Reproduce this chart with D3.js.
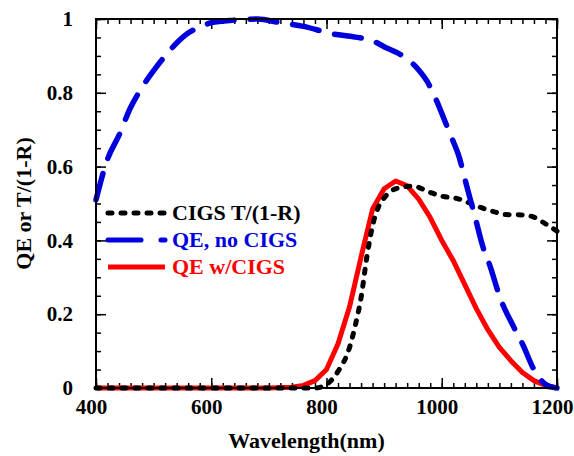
<!DOCTYPE html>
<html>
<head>
  <meta charset="utf-8">
  <script src="https://d3js.org/d3.v7.min.js"></script>
  <style>
    body { margin: 0; background: #fff; }
    text { font-family: "Liberation Serif", "Times New Roman", serif; font-weight: bold; }
  </style>
</head>
<body>
  <div id="chart"></div>

  <script>
    // wavelength (nm) and values
    var blueWl  = [400, 420, 440, 460, 480, 500, 520, 540, 560, 580, 600, 640, 680, 720, 760, 810, 850, 880, 900, 930, 960, 975, 990, 1005, 1020, 1030, 1040, 1060, 1070, 1085, 1100, 1125, 1140, 1160, 1180, 1200];
    var blueQE  = [0.51, 0.62, 0.685, 0.76, 0.815, 0.86, 0.90, 0.935, 0.962, 0.978, 0.99, 0.997, 1.0, 0.99, 0.98, 0.96, 0.951, 0.941, 0.925, 0.902, 0.862, 0.83, 0.782, 0.725, 0.668, 0.627, 0.567, 0.45, 0.39, 0.325, 0.25, 0.165, 0.12, 0.05, 0.01, 0.0];

    var redWl   = [400, 700, 740, 760, 780, 800, 820, 840, 860, 880, 900, 920, 940, 960, 980, 1000, 1020, 1040, 1060, 1080, 1100, 1120, 1140, 1160, 1180, 1200];
    var redQE   = [0, 0, 0.002, 0.007, 0.02, 0.05, 0.12, 0.22, 0.355, 0.485, 0.54, 0.561, 0.548, 0.512, 0.462, 0.40, 0.345, 0.28, 0.215, 0.158, 0.11, 0.074, 0.042, 0.02, 0.007, 0];

    var blackWl = [400, 780, 800, 820, 840, 850, 860, 870, 880, 890, 900, 920, 950, 980, 1000, 1030, 1050, 1070, 1090, 1110, 1140, 1160, 1180, 1200];
    var blackT  = [0, 0, 0.01, 0.045, 0.11, 0.17, 0.245, 0.355, 0.44, 0.49, 0.515, 0.54, 0.547, 0.53, 0.52, 0.512, 0.50, 0.488, 0.478, 0.47, 0.469, 0.463, 0.445, 0.425];

    var xTicks = [400, 600, 800, 1000, 1200];
    var yTicks = [0, 0.2, 0.4, 0.6, 0.8, 1];
    var legendNames = ["CIGS T/(1-R)", "QE, no CIGS", "QE w/CIGS"];

    var margin = {top: 19, right: 17, bottom: 68, left: 96};
    var width = 574 - margin.left - margin.right;
    var height = 456 - margin.top - margin.bottom;

    var x = d3.scaleLinear().domain([400, 1200]).range([0, width]);
    var y = d3.scaleLinear().domain([0, 1]).range([height, 0]);

    var svg = d3.select("#chart")
      .append("svg")
      .attr("width", 574)
      .attr("height", 456)
      .append("g")
      .attr("transform", "translate(" + margin.left + "," + margin.top + ")");

    function zip(a, b) {
      return a.map(function(v, i) { return [v, b[i]]; });
    }

    var minorX = d3.range(400, 1201, 20);
    var minorY = d3.range(0, 1.001, 0.05);

    // minor ticks on all four sides
    svg.append("g").attr("transform", "translate(0," + height + ")")
      .call(d3.axisBottom(x).tickValues(minorX).tickSize(-5).tickFormat(""));
    svg.append("g")
      .call(d3.axisTop(x).tickValues(minorX).tickSize(-5).tickFormat(""));
    svg.append("g")
      .call(d3.axisLeft(y).tickValues(minorY).tickSize(-5).tickFormat(""));
    svg.append("g").attr("transform", "translate(" + width + ",0)")
      .call(d3.axisRight(y).tickValues(minorY).tickSize(-5).tickFormat(""));

    // major ticks
    svg.append("g").attr("class", "xaxis").attr("transform", "translate(0," + height + ")")
      .call(d3.axisBottom(x).tickValues(xTicks).tickSizeInner(-10).tickSizeOuter(0).tickPadding(11).tickFormat(d3.format("d")));
    svg.append("g")
      .call(d3.axisTop(x).tickValues(xTicks).tickSize(-10).tickFormat(""));
    svg.append("g").attr("class", "yaxis")
      .call(d3.axisLeft(y).tickValues(yTicks).tickSizeInner(-10).tickSizeOuter(0).tickPadding(23).tickFormat(function(d) { return d3.format("")(+d.toFixed(1)); }));
    svg.append("g").attr("transform", "translate(" + width + ",0)")
      .call(d3.axisRight(y).tickValues(yTicks).tickSize(-10).tickFormat(""));

    svg.selectAll(".domain").remove();
    svg.selectAll(".tick line").attr("stroke", "#000").attr("stroke-width", 1.5);
    svg.selectAll(".xaxis text, .yaxis text")
      .attr("fill", "#000")
      .style("font-size", "21px")
      .style("font-family", "'Liberation Serif', serif")
      .style("font-weight", "bold");
    svg.selectAll(".xaxis text").attr("dx", -5);

    var line = d3.line()
      .x(function(d) { return x(d[0]); })
      .y(function(d) { return y(d[1]); });

    // red solid
    svg.append("path")
      .datum(zip(redWl, redQE))
      .attr("d", line.curve(d3.curveLinear))
      .attr("fill", "none")
      .attr("stroke", "#ff0000")
      .attr("stroke-width", 5)
      .attr("stroke-linejoin", "round");

    // black dotted
    svg.append("path")
      .datum(zip(blackWl, blackT))
      .attr("d", line.curve(d3.curveMonotoneX))
      .attr("fill", "none")
      .attr("stroke", "#000")
      .attr("stroke-width", 5)
      .attr("stroke-linecap", "round")
      .attr("stroke-dasharray", "4,9");

    // blue dashed
    svg.append("path")
      .datum(zip(blueWl, blueQE))
      .attr("d", line.curve(d3.curveMonotoneX))
      .attr("fill", "none")
      .attr("stroke", "#0000dd")
      .attr("stroke-width", 5.5)
      .attr("stroke-linecap", "round")
      .attr("stroke-dasharray", "27,16");

    // frame
    svg.append("rect")
      .attr("width", width)
      .attr("height", height)
      .attr("fill", "none")
      .attr("stroke", "#000")
      .attr("stroke-width", 2);

    // legend
    var legColors = ["#000", "#0000dd", "#ff0000"];
    var legDash = ["4,9", "33,20", null];
    var leg = svg.append("g").attr("transform", "translate(12,194)");
    legendNames.forEach(function(name, i) {
      var g = leg.append("g").attr("transform", "translate(0," + (i * 27) + ")");
      g.append("line")
        .attr("x1", 0).attr("x2", 57)
        .attr("stroke", legColors[i])
        .attr("stroke-width", 5)
        .attr("stroke-linecap", legDash[i] ? "round" : "butt")
        .attr("stroke-dasharray", legDash[i]);
      g.append("text")
        .attr("x", 64)
        .attr("y", 7)
        .attr("fill", legColors[i])
        .style("font-size", "22px")
        .text(name);
    });

    // axis titles
    svg.append("text")
      .attr("x", width / 2 - 20)
      .attr("y", height + 60)
      .attr("text-anchor", "middle")
      .style("font-size", "22px")
      .text("Wavelength(nm)");

    svg.append("text")
      .attr("transform", "rotate(-90)")
      .attr("x", -height / 2)
      .attr("y", -margin.left + 31)
      .attr("text-anchor", "middle")
      .style("font-size", "22px")
      .text("QE or T/(1-R)");
  </script>
</body>
</html>
